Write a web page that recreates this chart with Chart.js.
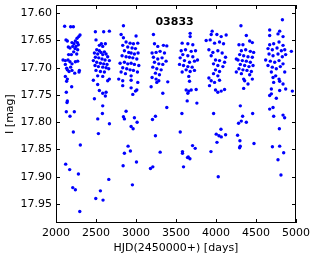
<!DOCTYPE html>
<html>
<head>
<meta charset="utf-8">
<script src="https://cdn.jsdelivr.net/npm/chart.js@4.4.0/dist/chart.umd.min.js"></script>
<style>
  html, body { margin: 0; padding: 0; background: #fff; }
</style>
</head>
<body>
<canvas id="lightCurve" width="316" height="259"></canvas>
<script>
// Star id shown inside the plot
const starName = '03833';

// Tick labels
const xTicks = [2000, 2500, 3000, 3500, 4000, 4500, 5000];
const yTicks = [17.60, 17.65, 17.70, 17.75, 17.80, 17.85, 17.90, 17.95];

// Observations, HJD - 2450000 (one line per season)
const hjd = [
  2108,2183,2217,2300,2284,2263,2242,2200,2225,2267,2279,2125,2142,2154,2175,2209,2250,2238,2271,2221,2259,2192,2158,2088,2117,2150,2175,2200,2242,2271,2183,2133,2117,2142,2163,2200,2234,2292,2288,2117,2142,2133,2196,2129,2142,2138,2129,2229,
  2175,2217,2304,2121,2171,2280,2209,2242,2297,
  2492,2596,2667,2500,2567,2617,2542,2584,2509,2542,2563,2605,2480,2521,2584,2626,2646,2492,2534,2575,2613,2667,2467,2509,2555,2596,2638,2488,2530,2584,2626,2659,2500,2555,2605,2521,2584,2646,2667,2467,2521,2542,2584,2626,2617,2480,2584,
  2522,2668,2530,2660,2555,2497,2588,2580,
  2843,2814,2843,3001,2876,2926,2968,3022,2834,2897,2951,2993,2855,2909,2939,2980,3026,2826,2876,2918,2960,3010,2801,2855,2897,2939,2980,3035,2834,2884,2926,2968,3018,2814,2868,2939,2784,2834,2939,3022,2834,2939,3010,2993,2960,2876,
  2843,2855,2980,3014,2939,2964,2901,2855,2930,3006,2839,2955,
  3218,3231,3272,3343,3385,3201,3251,3301,3356,3218,3272,3326,3376,3231,3285,3335,3210,3260,3314,3243,3293,3201,3251,3285,3189,3260,3397,3335,3385,
  3243,3206,3243,3302,3210,3181,
  3677,3677,3577,3648,3710,3565,3619,3690,3744,3585,3648,3710,3769,3552,3606,3669,3731,3544,3594,3648,3702,3577,3627,3677,3731,3660,3669,3627,3660,3690,3752,3648,3640,3761,
  3574,3553,3707,3740,3581,3581,3653,3674,3644,3594,
  3952,3940,4011,4065,4127,3877,3927,3982,4044,4094,3911,3961,4023,4077,4119,3940,3994,4044,4107,3969,4023,4086,3994,4044,3969,4023,3911,3940,3982,4044,3919,3994,4065,4107,4023,
  3970,4062,4003,4037,4066,4120,4012,3937,4028,
  4312,4379,4287,4337,4421,4454,4317,4371,4429,4471,4296,4346,4400,4454,4275,4329,4379,4429,4304,4358,4412,4463,4287,4337,4387,4442,4317,4421,4254,4254,4346,4358,4400,4454,4346,4304,
  4333,4458,4316,4282,4379,4270,4299,4303,4295,4475,
  4830,4671,4796,4671,4775,4838,4671,4721,4788,4838,4650,4704,4763,4817,4859,4942,4663,4713,4775,4829,4871,4621,4679,4734,4788,4838,4650,4704,4754,4804,4859,4692,4746,4713,4788,4721,4796,4838,4692,4871,4796,4954,4692,4671,4754,4713,4671,
  4721,4838,4858,4792,4705,4796,4846,4775,4812
];

// I-band magnitudes, same order as hjd
const imag = [
  17.624,17.625,17.625,17.640,17.643,17.646,17.651,17.654,17.656,17.654,17.658,17.649,17.651,17.662,17.664,17.661,17.661,17.665,17.667,17.671,17.675,17.676,17.676,17.686,17.687,17.686,17.689,17.693,17.689,17.688,17.699,17.701,17.694,17.704,17.707,17.705,17.710,17.705,17.708,17.716,17.721,17.725,17.735,17.745,17.761,17.764,17.781,17.781,
  17.789,17.818,17.842,17.877,17.887,17.895,17.920,17.924,17.964,
  17.634,17.634,17.633,17.649,17.656,17.656,17.659,17.661,17.667,17.669,17.672,17.671,17.673,17.675,17.676,17.675,17.680,17.681,17.682,17.684,17.686,17.687,17.687,17.690,17.692,17.693,17.694,17.696,17.698,17.699,17.700,17.702,17.705,17.707,17.708,17.715,17.716,17.724,17.721,17.723,17.731,17.742,17.747,17.745,17.752,17.757,17.770,
  17.794,17.803,17.821,17.905,17.926,17.940,17.943,17.784,
  17.623,17.639,17.645,17.642,17.653,17.655,17.656,17.655,17.659,17.662,17.664,17.665,17.669,17.672,17.673,17.675,17.673,17.678,17.680,17.681,17.682,17.684,17.692,17.690,17.693,17.692,17.694,17.696,17.700,17.702,17.704,17.705,17.708,17.708,17.711,17.715,17.721,17.724,17.723,17.727,17.733,17.737,17.741,17.743,17.749,17.780,
  17.790,17.794,17.792,17.800,17.808,17.812,17.844,17.857,17.853,17.873,17.880,17.915,
  17.639,17.656,17.661,17.659,17.660,17.673,17.672,17.670,17.673,17.681,17.684,17.682,17.688,17.690,17.693,17.694,17.699,17.702,17.704,17.710,17.713,17.718,17.721,17.724,17.735,17.727,17.726,17.747,17.773,
  17.789,17.795,17.825,17.855,17.882,17.885,
  17.637,17.643,17.655,17.656,17.658,17.669,17.667,17.670,17.669,17.676,17.678,17.680,17.686,17.682,17.687,17.690,17.688,17.694,17.696,17.698,17.699,17.708,17.704,17.707,17.705,17.716,17.725,17.741,17.743,17.741,17.740,17.747,17.761,17.765,
  17.784,17.818,17.843,17.848,17.854,17.857,17.864,17.867,17.865,17.882,
  17.633,17.639,17.639,17.643,17.640,17.650,17.649,17.655,17.653,17.656,17.667,17.672,17.669,17.673,17.681,17.678,17.686,17.687,17.690,17.693,17.696,17.698,17.704,17.707,17.711,17.715,17.719,17.724,17.727,17.723,17.733,17.741,17.743,17.740,17.745,
  17.784,17.813,17.822,17.825,17.827,17.823,17.837,17.854,17.900,
  17.623,17.641,17.658,17.658,17.651,17.654,17.669,17.667,17.670,17.672,17.676,17.678,17.680,17.681,17.686,17.687,17.688,17.690,17.694,17.696,17.698,17.696,17.702,17.704,17.705,17.707,17.711,17.713,17.684,17.708,17.721,17.724,17.730,17.721,17.738,17.770,
  17.789,17.784,17.798,17.802,17.800,17.824,17.834,17.844,17.847,17.839,
  17.612,17.631,17.633,17.641,17.638,17.643,17.658,17.656,17.653,17.659,17.665,17.667,17.664,17.669,17.667,17.670,17.675,17.678,17.675,17.680,17.676,17.686,17.688,17.690,17.687,17.693,17.696,17.699,17.702,17.698,17.708,17.708,17.715,17.718,17.721,17.727,17.725,17.730,17.739,17.739,17.742,17.743,17.748,17.751,17.756,17.773,17.776,
  17.789,17.787,17.792,17.812,17.845,17.844,17.856,17.869,17.897
];

if (hjd.length !== imag.length) console.error('length mismatch', hjd.length, imag.length);

Chart.defaults.font.family = '"DejaVu Sans", sans-serif';
Chart.defaults.color = '#000';

// matplotlib-style box with inward ticks on all four sides, plus the star label
const frameTicks = {
  id: 'frameTicks',
  afterDatasetsDraw(chart) {
    const { ctx, chartArea: a, scales } = chart;
    const tl = 4;
    ctx.save();
    ctx.strokeStyle = '#000';
    ctx.lineWidth = 1;
    ctx.beginPath();
    xTicks.forEach(v => {
      const px = Math.round(scales.x.getPixelForValue(v)) + 0.5;
      ctx.moveTo(px, a.bottom); ctx.lineTo(px, a.bottom - tl);
      ctx.moveTo(px, a.top); ctx.lineTo(px, a.top + tl);
    });
    yTicks.forEach(v => {
      const py = Math.round(scales.y.getPixelForValue(v)) + 0.5;
      ctx.moveTo(a.left, py); ctx.lineTo(a.left + tl, py);
      ctx.moveTo(a.right, py); ctx.lineTo(a.right - tl, py);
    });
    ctx.stroke();
    ctx.strokeRect(a.left + 0.5, a.top + 0.5, a.right - a.left - 1, a.bottom - a.top - 1);

    ctx.fillStyle = '#000';
    ctx.font = 'bold 11px "DejaVu Sans"';
    ctx.textAlign = 'center';
    ctx.textBaseline = 'middle';
    ctx.fillText(starName, a.left + (a.right - a.left) * 0.494, a.top + 17);
    ctx.restore();
  }
};

const ctx = document.getElementById('lightCurve').getContext('2d');

new Chart(ctx, {
  type: 'scatter',
  data: {
    datasets: [{
      data: hjd.map((t, i) => ({ x: t, y: imag[i] })),
      backgroundColor: '#0000ff',
      borderWidth: 0,
      pointRadius: 1.7,
      pointHoverRadius: 1.7
    }]
  },
  options: {
    responsive: false,
    animation: false,
    events: [],
    layout: { padding: { top: 5, right: 20, left: 0, bottom: 0 } },
    plugins: {
      legend: { display: false },
      tooltip: { enabled: false }
    },
    scales: {
      x: {
        type: 'linear',
        min: 2000,
        max: 5000,
        afterBuildTicks: s => { s.ticks = xTicks.map(v => ({ value: v })); },
        afterFit: s => { s.height = 36; s.paddingLeft = 0; s.paddingRight = 0; },
        grid: { display: false, drawTicks: false },
        border: { display: false },
        ticks: {
          padding: 4,
          maxRotation: 0,
          autoSkip: false,
          font: { size: 11 },
          callback: v => String(v)
        },
        title: {
          display: true,
          text: 'HJD(2450000+) [days]',
          font: { size: 11 },
          padding: { top: 0, bottom: 4 }
        }
      },
      y: {
        type: 'linear',
        reverse: true,
        min: 17.585,
        max: 17.985,
        afterBuildTicks: s => { s.ticks = yTicks.map(v => ({ value: v })); },
        afterFit: s => { s.width = 56; s.paddingTop = 0; s.paddingBottom = 0; },
        grid: { display: false, drawTicks: false },
        border: { display: false },
        ticks: {
          padding: 4,
          autoSkip: false,
          font: { size: 11 },
          callback: v => v.toFixed(2)
        },
        title: {
          display: true,
          text: 'I [mag]',
          font: { size: 11 },
          padding: { top: 4, bottom: 0 }
        }
      }
    }
  },
  plugins: [frameTicks]
});
</script>
</body>
</html>
